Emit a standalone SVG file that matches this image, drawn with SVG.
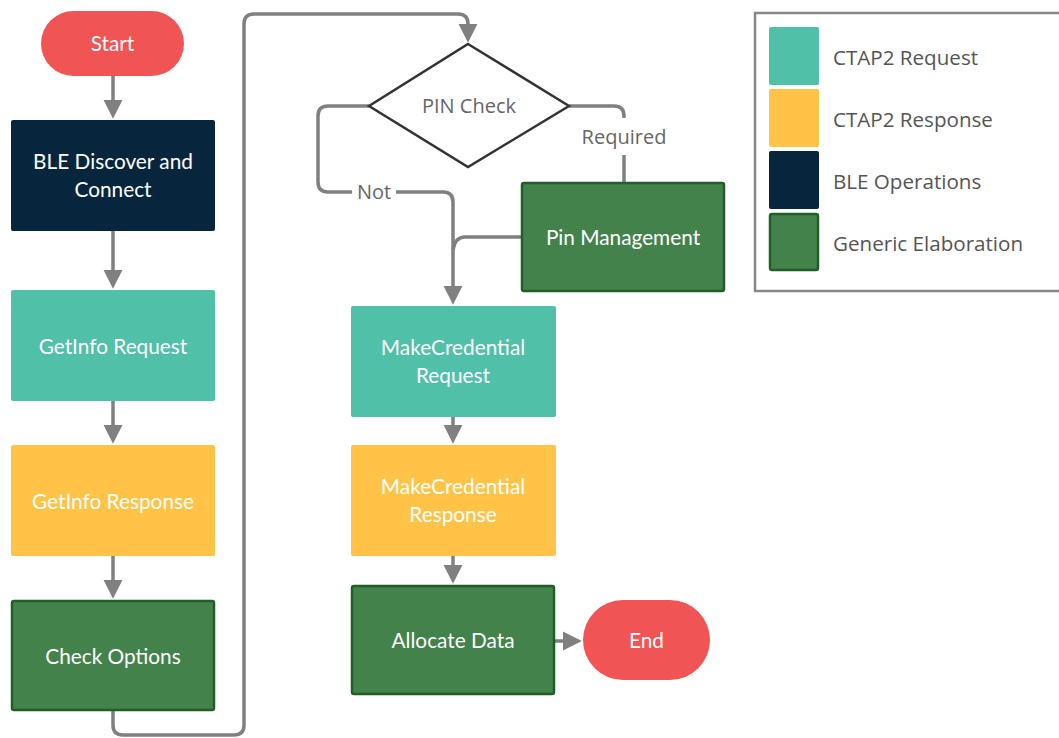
<svg xmlns="http://www.w3.org/2000/svg" width="1059" height="738" viewBox="0 0 1059 738">
<defs>
<marker id="arr" viewBox="0 0 10 10" refX="8" refY="5" markerWidth="5.5" markerHeight="5.5" markerUnits="strokeWidth" orient="auto">
<path d="M0,0 L10,5 L0,10 z" fill="#808080"/>
</marker>
<style>
.t{font-family:Lato,"Open Sans","Liberation Sans",sans-serif;font-size:20.8px;fill:#fff;text-anchor:middle}
.g{font-family:"Open Sans",Lato,"Liberation Sans",sans-serif;font-size:20px;fill:#666;text-anchor:middle}
.lg{font-family:"Open Sans",Lato,"Liberation Sans",sans-serif;font-size:20.6px;fill:#555}
.c{fill:none;stroke:#808080;stroke-width:3.5}
.term{fill:#f05454}
.ble{fill:#07263d}
.req{fill:#50c0a9}
.resp{fill:#ffc447}
.gen{fill:#43834b;stroke:#225e28;stroke-width:2.5}
</style>
</defs>
<rect width="1059" height="738" fill="#fff"/>
<g id="connectors">
<path class="c" d="M113,76 V115" marker-end="url(#arr)"/>
<path class="c" d="M113,231 V285" marker-end="url(#arr)"/>
<path class="c" d="M113,401 V440" marker-end="url(#arr)"/>
<path class="c" d="M113,556 V595" marker-end="url(#arr)"/>
<path class="c" d="M113,711 V725 Q113,735 123,735 H234 Q244,735 244,725 V24 Q244,14 254,14 H458 Q468,14 468,24 V39" marker-end="url(#arr)"/>
<path class="c" d="M369,106 H328 Q318,106 318,116 V182 Q318,192 328,192 H352"/>
<path class="c" d="M396,192 H443 Q453,192 453,202 V301" marker-end="url(#arr)"/>
<path class="c" d="M569,106 H614 Q624,106 624,116 V118"/>
<path class="c" d="M624,155 V183"/>
<path class="c" d="M521,237 H465 Q455,237 453,250"/>
<path class="c" d="M453,417 V440" marker-end="url(#arr)"/>
<path class="c" d="M453,556 V580" marker-end="url(#arr)"/>
<path class="c" d="M555,641 H578" marker-end="url(#arr)"/>
</g>
<g id="start"><rect class="term" x="41" y="11" width="143" height="65" rx="32.5"/><text class="t" x="112.5" y="51">Start</text></g>
<g id="ble"><rect class="ble" x="11" y="120" width="204" height="111" rx="2"/><text class="t" x="113" y="169">BLE Discover and</text><text class="t" x="113" y="197">Connect</text></g>
<g id="getinfo-req"><rect class="req" x="11" y="290" width="204" height="111" rx="2"/><text class="t" x="113" y="354">GetInfo Request</text></g>
<g id="getinfo-resp"><rect class="resp" x="11" y="445" width="204" height="111" rx="2"/><text class="t" x="113" y="509">GetInfo Response</text></g>
<g id="check-options"><rect class="gen" x="12" y="601" width="202" height="109" rx="2"/><text class="t" x="113" y="664">Check Options</text></g>
<g id="pin-check"><polygon points="468,44 569,106 468,167 369,106" fill="#fff" stroke="#333" stroke-width="2.5"/><text class="g" x="469" y="113">PIN Check</text></g>
<g id="label-not"><text class="g" x="374" y="199">Not</text></g>
<g id="label-required"><text class="g" x="624" y="144">Required</text></g>
<g id="pin-management"><rect class="gen" x="522" y="183" width="202" height="108" rx="2"/><text class="t" x="623" y="245">Pin Management</text></g>
<g id="mc-req"><rect class="req" x="351" y="306" width="205" height="111" rx="2"/><text class="t" x="453" y="355">MakeCredential</text><text class="t" x="453" y="383">Request</text></g>
<g id="mc-resp"><rect class="resp" x="351" y="445" width="205" height="111" rx="2"/><text class="t" x="453" y="494">MakeCredential</text><text class="t" x="453" y="522">Response</text></g>
<g id="allocate"><rect class="gen" x="352" y="586" width="202" height="108" rx="2"/><text class="t" x="453" y="648">Allocate Data</text></g>
<g id="end"><rect class="term" x="583" y="600" width="127" height="80" rx="40"/><text class="t" x="646.5" y="648">End</text></g>
<g id="legend">
<rect x="755" y="13" width="310" height="278" fill="#fff" stroke="#888" stroke-width="2.5"/>
<rect class="req" x="769" y="27" width="50" height="58" rx="2"/>
<rect class="resp" x="769" y="89" width="50" height="58" rx="2"/>
<rect class="ble" x="769" y="151" width="50" height="58" rx="2"/>
<rect class="gen" x="770" y="214" width="48" height="56" rx="2"/>
<text class="lg" x="833" y="65">CTAP2 Request</text>
<text class="lg" x="833" y="127">CTAP2 Response</text>
<text class="lg" x="833" y="189">BLE Operations</text>
<text class="lg" x="833" y="251">Generic Elaboration</text>
</g>
</svg>
